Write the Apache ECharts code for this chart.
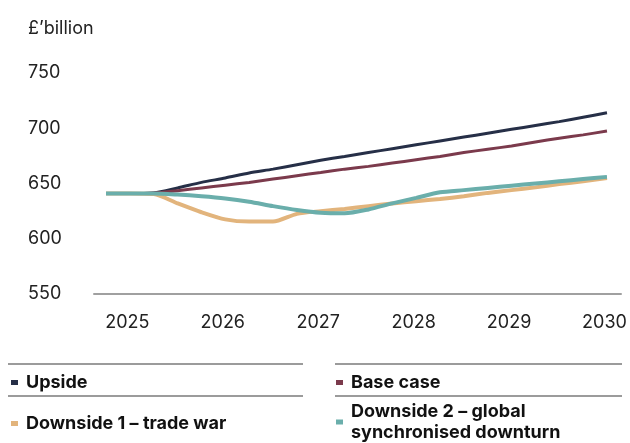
<!DOCTYPE html>
<html>
<head>
<meta charset="utf-8">
<script src="https://cdn.jsdelivr.net/npm/echarts@6/dist/echarts.min.js"></script>
<style>
  html, body { margin: 0; padding: 0; background: #fff; }
  #chart { width: 630px; height: 443px; }
</style>
</head>
<body>
<div id="chart"></div>
<script>
// quarterly points, 2024 Q4 .. 2030 Q1 (x as fractional year)
var quarters = [2024.75, 2025, 2025.25, 2025.5, 2025.75, 2026, 2026.25, 2026.5, 2026.75,
    2027, 2027.25, 2027.5, 2027.75, 2028, 2028.25, 2028.5, 2028.75,
    2029, 2029.25, 2029.5, 2029.75, 2030];
var yearLabels = [2025, 2026, 2027, 2028, 2029, 2030];

var upside = [641, 641, 641.5, 646, 651, 655, 659.5, 663, 667, 671, 674.5, 678,
    681.5, 685, 688.5, 692, 695.5, 699, 702.5, 706, 710, 714];
var baseCase = [641, 641, 641.5, 643.5, 646, 648.5, 651, 654, 657, 660, 663, 665.5,
    668.5, 671.5, 674.5, 678, 681, 684, 687.5, 691, 694, 697.5];
var downside1 = [641, 641, 640.5, 632, 624, 617.5, 615.5, 615.5, 622.5, 625, 627, 629.5,
    632, 634, 636, 638.5, 641.5, 644, 646.5, 649.5, 652, 655];
var downside2 = [641, 641, 641, 640, 638.5, 636.5, 633.5, 629.5, 626, 623.5, 623, 626.5,
    632, 637, 642, 644, 646, 648, 650, 652, 654, 656];

var names = ['Upside', 'Base case', 'Downside 1 – trade war', 'Downside 2 – global synchronised downturn'];
var colors = ['#262f47', '#7b3a4c', '#e2b47c', '#6aaeab'];
var widths = [3, 3, 4, 4];
var values = [upside, baseCase, downside1, downside2];

function pairs(arr) {
    var out = [];
    for (var i = 0; i < arr.length; i++) {
        out.push([quarters[i], arr[i]]);
    }
    return out;
}

var font = 'Inter, "Noto Sans", sans-serif';

var series = [];
for (var s = 0; s < names.length; s++) {
    series.push({
        name: names[s],
        type: 'line',
        data: pairs(values[s]),
        showSymbol: false,
        symbol: 'none',
        smooth: 0.25,
        color: colors[s],
        lineStyle: { width: widths[s], color: colors[s], cap: 'butt' }
    });
}

function legendAt(name, left, top) {
    return {
        data: [name],
        left: left,
        top: top,
        padding: 0,
        icon: 'rect',
        itemWidth: 7,
        itemHeight: 5,
        selectedMode: false,
        formatter: function (n) { return n.replace(' global ', ' global\n'); },
        textStyle: {
            fontFamily: font,
            fontSize: 18,
            fontWeight: 'bold',
            color: '#111',
            lineHeight: 21,
            padding: [0, 0, 0, 3]
        }
    };
}

var hr = function (x1, x2, y) {
    return {
        type: 'line',
        shape: { x1: x1, y1: y, x2: x2, y2: y },
        style: { stroke: '#7a7a7a', lineWidth: 1.5 }
    };
};

var chart = echarts.init(document.getElementById('chart'));
chart.setOption({
    animation: false,
    title: {
        text: '£’billion',
        left: 28,
        top: 20,
        padding: 0,
        textStyle: { fontFamily: font, fontSize: 18, fontWeight: 'normal', color: '#222' }
    },
    grid: { left: 94, right: 9, top: 73, bottom: 149 },
    xAxis: {
        type: 'value',
        min: 2024.624,
        max: 2030.147,
        axisLine: { show: true, lineStyle: { color: '#a0a0a0', width: 2 } },
        axisTick: { show: false },
        splitLine: { show: false },
        axisLabel: {
            customValues: yearLabels,
            margin: 20,
            fontFamily: font,
            fontSize: 18,
            color: '#222',
            padding: [0, 5, 0, 0],
            formatter: function (v) { return String(v); }
        }
    },
    yAxis: {
        type: 'value',
        min: 550,
        max: 750,
        interval: 50,
        axisLine: { show: false },
        axisTick: { show: false },
        splitLine: { show: false },
        axisLabel: {
            align: 'left',
            margin: 66,
            fontFamily: font,
            fontSize: 18,
            color: '#222',
            padding: [4, 0, 0, 0]
        }
    },
    legend: [
        legendAt(names[0], 11, 372),
        legendAt(names[1], 336, 372),
        legendAt(names[2], 11, 413),
        legendAt(names[3], 336, 401)
    ],
    graphic: [
        hr(8, 303, 364), hr(8, 303, 396),
        hr(335, 622, 364), hr(335, 622, 396)
    ],
    series: series
});
</script>
</body>
</html>
